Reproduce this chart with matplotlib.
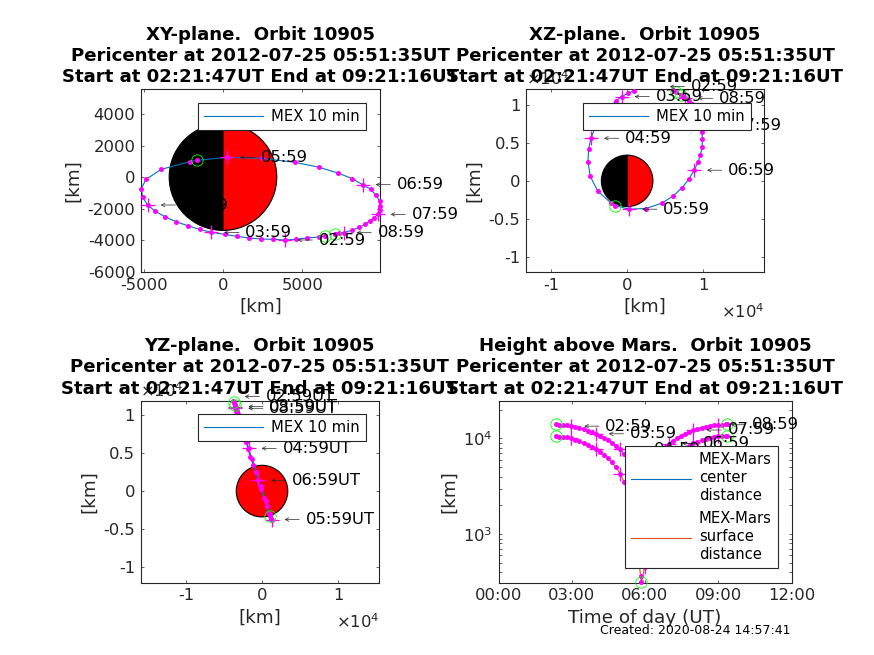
import matplotlib
matplotlib.use('Agg')
import matplotlib.pyplot as plt
from matplotlib.patches import Wedge, Circle
from matplotlib.ticker import NullFormatter
import numpy as np

plt.rcParams['axes.unicode_minus'] = False
plt.rcParams['font.family'] = ['DejaVu Sans']
plt.rcParams['mathtext.default'] = 'regular'

# sample times along the orbit (start, 10 min steps, pericenter, end)
times = ['02:21', '02:29', '02:39', '02:49', '02:59', '03:09', '03:19', '03:29', '03:39', '03:49',
         '03:59', '04:09', '04:19', '04:29', '04:39', '04:49', '04:59', '05:09', '05:19', '05:29',
         '05:39', '05:49', '05:51', '05:59', '06:09', '06:19', '06:29', '06:39', '06:49', '06:59',
         '07:09', '07:19', '07:29', '07:39', '07:49', '07:59', '08:09', '08:19', '08:29', '08:39',
         '08:49', '08:59', '09:09', '09:19', '09:21']

x_km = [6405, 6027, 5292, 4599, 3885, 3150, 2415, 1638, 882, 105,
        -735, -1470, -2226, -2961, -3654, -4263, -4746, -5061, -5150, -4851,
        -3885, -2100, -1638, 252, 2457, 4557, 6069, 7245, 8148, 8799,
        9324, 9639, 9870, 9890, 9870, 9744, 9492, 9240, 8967, 8568,
        8106, 7602, 7329, 7077, 7035]
y_km = [-3745, -3809, -3872, -3957, -3999, -3957, -3936, -3872, -3766, -3640,
        -3513, -3322, -3089, -2835, -2518, -2179, -1777, -1291, -741, -148,
        487, 973, 1058, 1248, 1185, 931, 614, 254, -106, -487,
        -783, -1164, -1524, -1820, -2095, -2370, -2624, -2793, -3005, -3195,
        -3386, -3534, -3576, -3618, -3618]
z_km = [11754, 11974, 12149, 12325, 12412, 12456, 12412, 12193, 11886, 11535,
        11096, 10526, 9781, 8991, 8026, 6930, 5614, 4211, 2544, 614,
        -1316, -2939, -3246, -3728, -3640, -2939, -1974, -877, 263, 1404,
        2456, 3465, 4430, 5482, 6404, 7237, 8114, 8904, 9561, 10088,
        10526, 10877, 11096, 11272, 11316]

center_km = [13990, 13850, 13770, 13650, 13440, 13120, 12820, 12410, 12020, 11550,
             11180, 10660, 10160, 9610, 9010, 8390, 7680, 6870, 5990, 5080,
             4280, 3760, 3704, 3840, 4500, 5400, 6300, 7200, 8050, 8850,
             9500, 10100, 10700, 11250, 11800, 12250, 12650, 13000, 13300, 13550,
             13750, 13900, 13970, 14000, 14000]
surface_km = [10600, 10460, 10380, 10260, 10050, 9730, 9430, 9020, 8630, 8160,
              7790, 7270, 6770, 6220, 5620, 5000, 4290, 3480, 2600, 1690,
              890, 370, 314, 450, 1110, 2010, 2910, 3810, 4660, 5460,
              6110, 6710, 7310, 7860, 8410, 8860, 9260, 9610, 9910, 10160,
              10360, 10510, 10580, 10610, 10610]

hour_labels = ['02:59', '03:59', '04:59', '05:59', '06:59', '07:59', '08:59']
circle_times = ['02:21', '05:51', '09:21']

title_head = ['XY-plane.  Orbit 10905', 'XZ-plane.  Orbit 10905',
              'YZ-plane.  Orbit 10905', 'Height above Mars.  Orbit 10905']
title_tail = 'Pericenter at 2012-07-25 05:51:35UT\nStart at 02:21:47UT End at 09:21:16UT'

MARS_R = 3390
BLUE = '#0072BD'
ORANGE = '#D95319'
MAGENTA = '#FF00FF'
GREEN = '#00FF00'
FS = 11.8
LABEL_FS = 13.2
TITLE_FS = 13.1

W, H = 874.0, 655.0
fig = plt.figure(figsize=(8.74, 6.55), dpi=100)


def make_axes(left, right, top, bottom):
    return fig.add_axes([left / W, (H - bottom) / H, (right - left) / W, (bottom - top) / H])


def style_axes(ax, title):
    ax.tick_params(which='both', direction='in', top=True, right=True, length=2.2, width=0.5,
                   labelsize=FS, labelcolor='#262626', color='#262626', pad=4)
    for s in ax.spines.values():
        s.set_linewidth(0.8)
        s.set_color('#262626')
    ax.set_title(title, fontsize=TITLE_FS, fontweight='bold', pad=5, linespacing=1.22)


def idx(names):
    return [times.index(n) for n in names]


def inside(ax, xs, ys):
    # markers only where the point is inside the axes, but they are not cut at the edge
    x0, x1 = ax.get_xlim()
    y0, y1 = ax.get_ylim()
    return [i for i in range(len(xs)) if x0 <= xs[i] <= x1 and y0 <= ys[i] <= y1]


def draw_orbit(ax, xs, ys, suffix=''):
    xs = np.array(xs, dtype=float)
    ys = np.array(ys, dtype=float)
    ax.plot(xs, ys, color=BLUE, lw=0.8, zorder=2)
    add_marks(ax, xs, ys)
    add_labels(ax, xs, ys, suffix)


def add_marks(ax, xs, ys):
    keep = inside(ax, xs, ys)
    ax.plot(xs[keep], ys[keep], ls='none', marker='o', ms=3.6, color=MAGENTA, mew=0,
            clip_on=False, zorder=3)
    hrs = [i for i in idx(hour_labels) if i in keep]
    ax.plot(xs[hrs], ys[hrs], ls='none', marker='+', ms=10, mew=0.9, color=MAGENTA,
            mec=MAGENTA, clip_on=False, zorder=3)
    circ = [i for i in idx(circle_times) if i in keep]
    ax.plot(xs[circ], ys[circ], ls='none', marker='o', ms=8.2, mew=0.6, mfc='none', mec=GREEN,
            clip_on=False, zorder=3)


def add_labels(ax, xs, ys, suffix=''):
    # thin arrow from the text back towards the point, stopping short of it
    for name, i in zip(hour_labels, idx(hour_labels)):
        ax.annotate(name + suffix, (xs[i], ys[i]), xytext=(34, 0),
                    textcoords='offset pixels', fontsize=FS, ha='left', va='center',
                    color='black', annotation_clip=False, zorder=4,
                    arrowprops=dict(arrowstyle='->,head_length=0.25,head_width=0.13', lw=0.5,
                                    color='#262626', relpos=(0, 0.5), shrinkA=2.5, shrinkB=9.4,
                                    mutation_scale=10))


def add_legend(ax, handles, labels, left, top, spacing=1.2):
    leg = ax.legend(handles, labels, loc='upper left', bbox_to_anchor=(left / W, (H - top) / H),
                    bbox_transform=fig.transFigure, fontsize=10.6, fancybox=False, framealpha=1,
                    edgecolor='#262626', borderaxespad=0, borderpad=0.42, handlelength=4.05,
                    handletextpad=0.55, labelspacing=0.55)
    leg.get_frame().set_linewidth(0.8)
    leg.set_zorder(5)
    for t in leg.get_texts():
        t.set_linespacing(spacing)
    return leg


def offset_labels(ax):
    ax.text(1.0, -0.215, r'$\times 10^4$', transform=ax.transAxes, ha='right', va='center',
            fontsize=FS, color='#262626')
    ax.text(0.0, 1.055, r'$\times 10^4$', transform=ax.transAxes, ha='left', va='center',
            fontsize=FS, color='#262626')


# XY plane
ax1 = make_axes(141, 380, 89, 272)
ax1.set_xlim(-5166, 9895)
ax1.set_ylim(-6030, 5587)
ax1.add_patch(Wedge((0, 0), MARS_R, 90, 270, fc='black', ec='black', lw=0.8, zorder=1))
ax1.add_patch(Wedge((0, 0), MARS_R, -90, 90, fc='red', ec='black', lw=0.8, zorder=1))
draw_orbit(ax1, x_km, y_km)
ax1.set_xticks([-5000, 0, 5000])
ax1.set_yticks([-6000, -4000, -2000, 0, 2000, 4000])
ax1.set_xlabel('[km]', fontsize=LABEL_FS, color='#262626', labelpad=4)
ax1.set_ylabel('[km]', fontsize=LABEL_FS, color='#262626')
style_axes(ax1, title_head[0] + '\n' + title_tail)
add_legend(ax1, [plt.Line2D([], [], color=BLUE, lw=0.8)], ['MEX 10 min'], 197.5, 102.5)

# XZ plane
ax2 = make_axes(526, 764, 89, 272)
ax2.set_xlim(-13300, 18000)
ax2.set_ylim(-12000, 12100)
ax2.add_patch(Wedge((0, 0), MARS_R, 90, 270, fc='black', ec='black', lw=0.8, zorder=1))
ax2.add_patch(Wedge((0, 0), MARS_R, -90, 90, fc='red', ec='black', lw=0.8, zorder=1))
draw_orbit(ax2, x_km, z_km)
ax2.set_xticks([-10000, 0, 10000])
ax2.set_xticklabels(['-1', '0', '1'])
ax2.set_yticks([-10000, -5000, 0, 5000, 10000])
ax2.set_yticklabels(['-1', '-0.5', '0', '0.5', '1'])
ax2.set_xlabel('[km]', fontsize=LABEL_FS, color='#262626', labelpad=4)
ax2.set_ylabel('[km]', fontsize=LABEL_FS, color='#262626')
style_axes(ax2, title_head[1] + '\n' + title_tail)
offset_labels(ax2)
add_legend(ax2, [plt.Line2D([], [], color=BLUE, lw=0.8)], ['MEX 10 min'], 582.5, 102.5)

# YZ plane
ax3 = make_axes(140.5, 379, 400.5, 582.5)
ax3.set_xlim(-16000, 15400)
ax3.set_ylim(-12000, 11900)
ax3.add_patch(Circle((0, 0), MARS_R, fc='red', ec='black', lw=0.8, zorder=1))
draw_orbit(ax3, y_km, z_km, suffix='UT')
ax3.set_xticks([-10000, 0, 10000])
ax3.set_xticklabels(['-1', '0', '1'])
ax3.set_yticks([-10000, -5000, 0, 5000, 10000])
ax3.set_yticklabels(['-1', '-0.5', '0', '0.5', '1'])
ax3.set_xlabel('[km]', fontsize=LABEL_FS, color='#262626', labelpad=4)
ax3.set_ylabel('[km]', fontsize=LABEL_FS, color='#262626')
style_axes(ax3, title_head[2] + '\n' + title_tail)
offset_labels(ax3)
add_legend(ax3, [plt.Line2D([], [], color=BLUE, lw=0.8)], ['MEX 10 min'], 197.5, 413.5)

# height above Mars
hours = np.array([int(t[:2]) + int(t[3:]) / 60.0 for t in times])
ax4 = make_axes(498.5, 791.5, 400.5, 582.5)
ax4.set_yscale('log')
ax4.set_xlim(0, 12)
ax4.set_ylim(313, 24900)
ax4.plot(hours, center_km, color=BLUE, lw=0.8, zorder=2)
ax4.plot(hours, surface_km, color=ORANGE, lw=0.8, zorder=2)
add_marks(ax4, hours, np.array(center_km, dtype=float))
add_marks(ax4, hours, np.array(surface_km, dtype=float))
add_labels(ax4, hours, np.array(center_km, dtype=float))
ax4.set_xticks([0, 3, 6, 9, 12])
ax4.set_xticklabels(['00:00', '03:00', '06:00', '09:00', '12:00'])
ax4.yaxis.set_minor_formatter(NullFormatter())
ax4.set_xlabel('Time of day (UT)', fontsize=LABEL_FS, color='#262626', labelpad=4.6)
ax4.set_ylabel('[km]', fontsize=LABEL_FS, color='#262626')
style_axes(ax4, title_head[3] + '\n' + title_tail)
add_legend(ax4, [plt.Line2D([], [], color=BLUE, lw=0.8), plt.Line2D([], [], color=ORANGE, lw=0.8)],
           ['MEX-Mars\ncenter\ndistance', 'MEX-Mars\nsurface\ndistance'], 625, 446, spacing=1.25)

fig.text(600 / W, (H - 630) / H, 'Created: 2020-08-24 14:57:41', fontsize=9, color='black',
         ha='left', va='center')

fig.savefig('out.png', dpi=100)
